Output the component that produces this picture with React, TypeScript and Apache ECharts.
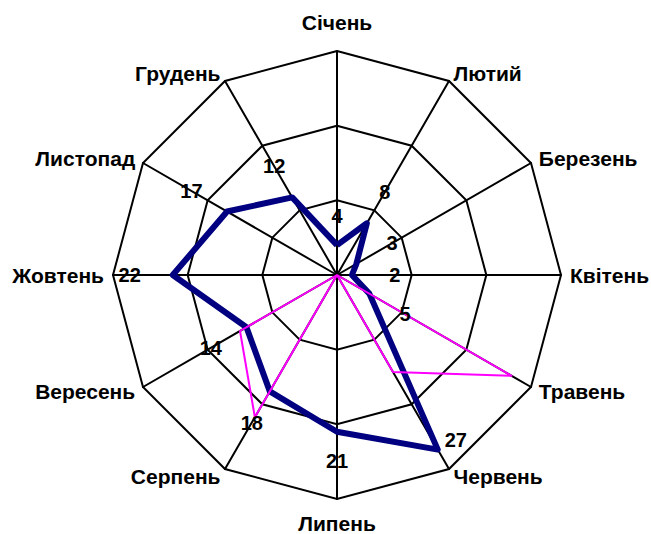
import React, { useEffect, useRef } from "react";
import * as echarts from "echarts";

const months = ["Січень", "Лютий", "Березень", "Квітень", "Травень", "Червень", "Липень", "Серпень", "Вересень", "Жовтень", "Листопад", "Грудень"];
const seriesBlue = [4, 8, 3, 2, 5, 27, 21, 18, 14, 22, 17, 12];
const seriesPink = [0, 0, 0, 0, 27, 15, 0, 22, 15, 0, 0, 0];
const axisMax = 30;
const splitCount = 3;

const FONT = "'Liberation Sans', Arial, sans-serif";

// ECharts radar runs counter-clockwise; reorder so months run clockwise from the top
const order = months.map((_, i) => (i === 0 ? 0 : months.length - i));
const cw = <T,>(arr: T[]) => order.map((k) => arr[k]);

export default function App() {
  const ref = useRef<HTMLDivElement>(null);
  useEffect(() => {
    if (!ref.current) return;
    const chart = echarts.init(ref.current, null, { renderer: "svg" });
    const center = [337, 275];
    const radius = 224;
    const labelData = seriesBlue.map((v, i) => {
      const th = (i * 30 * Math.PI) / 180;
      const d = 29 + 14 * Math.abs(Math.sin(th));
      // labels near the outer ring sit beside the point instead of outside it
      const offset = v > axisMax * 0.85 ? [18, -10] : [d * Math.sin(th), -d * Math.cos(th)];
      return {
        value: [v, months[i]],
        label: { offset },
      };
    });
    const nameStyle = { fontSize: 21, fontWeight: "bold", fontFamily: FONT, color: "#000" };
    chart.setOption({
      animation: false,
      backgroundColor: "#ffffff",
      radar: {
        center,
        radius,
        shape: "polygon",
        startAngle: 90,
        splitNumber: splitCount,
        nameGap: 9,
        indicator: cw(months).map((m) => ({ name: m, min: 0, max: axisMax })),
        axisName: {
          ...nameStyle,
          formatter: (name: string) =>
            name === months[0] ? `{top|${name}}` : name === months[6] ? `{bot|${name}}` : name,
          rich: {
            top: { ...nameStyle, lineHeight: 40 },
            bot: { ...nameStyle, lineHeight: 30 },
          },
        },
        axisLine: { lineStyle: { color: "#000", width: 2 } },
        splitLine: { lineStyle: { color: "#000", width: 2 } },
        splitArea: { show: false },
        axisTick: { show: false },
        axisLabel: { show: false },
      },
      polar: { center, radius },
      angleAxis: {
        type: "category",
        data: months,
        startAngle: 90,
        clockwise: true,
        boundaryGap: false,
        show: false,
      },
      radiusAxis: { type: "value", min: 0, max: axisMax, show: false },
      series: [
        {
          type: "radar",
          symbol: "none",
          z: 2,
          data: [
            {
              value: cw(seriesBlue),
              lineStyle: { color: "#000080", width: 6 },
            },
          ],
        },
        {
          type: "radar",
          symbol: "none",
          z: 3,
          data: [
            {
              value: cw(seriesPink),
              lineStyle: { color: "#ff00ff", width: 2 },
            },
          ],
        },
        {
          type: "scatter",
          coordinateSystem: "polar",
          symbolSize: 0,
          z: 4,
          itemStyle: { opacity: 1 },
          label: {
            show: true,
            position: "inside",
            formatter: (p: any) => String(p.value[0]),
            color: "#000",
            fontSize: 20,
            fontWeight: "bold",
            fontFamily: FONT,
          },
          data: labelData,
        },
      ],
    });
    return () => chart.dispose();
  }, []);
  return <div ref={ref} style={{ position: "fixed", left: 0, top: 0, width: 651, height: 534 }} />;
}
